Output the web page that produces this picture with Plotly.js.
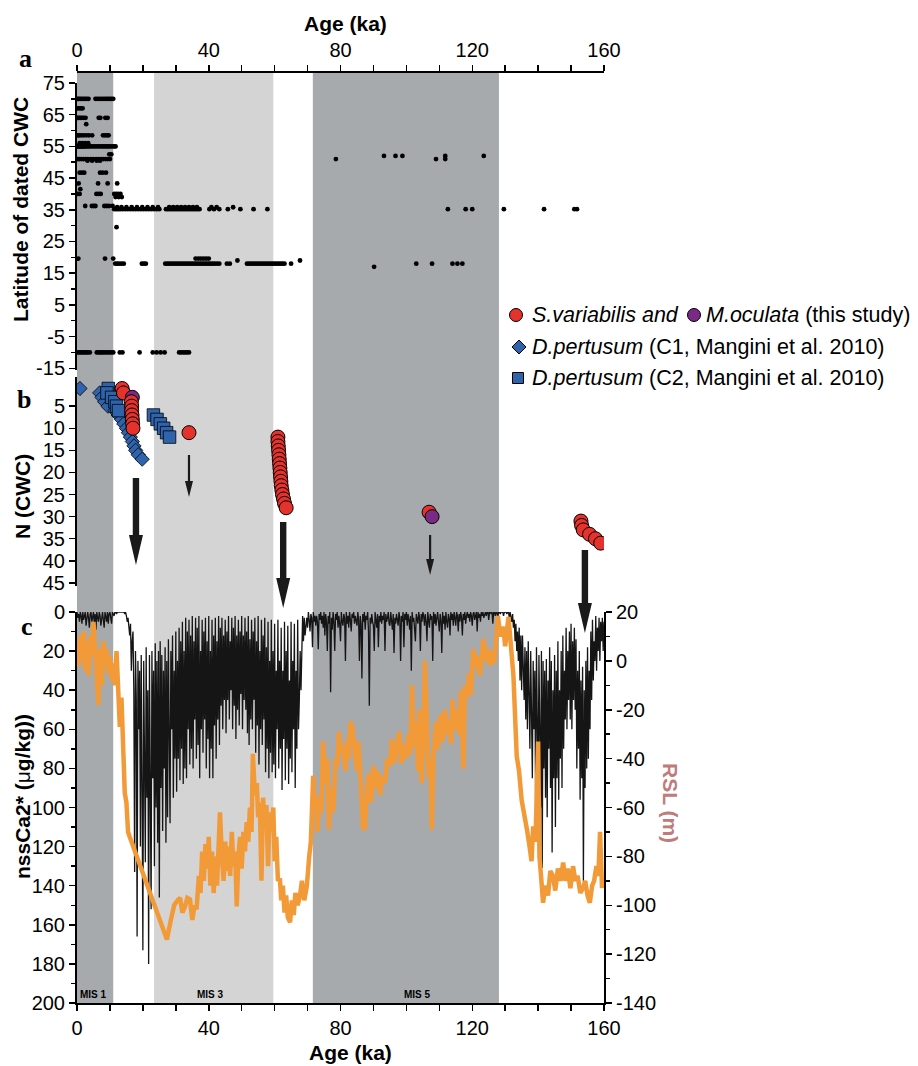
<!DOCTYPE html>
<html><head><meta charset="utf-8">
<script src="https://cdn.plot.ly/plotly-3.0.1.min.js"></script>
<style>html,body{margin:0;padding:0;background:#fff}#chart{width:918px;height:1066px}</style>
</head><body><div id="chart"></div>
<script>
// ================= DATA =================
const ageTicks = [0, 40, 80, 120, 160];
const latTicks = [75, 65, 55, 45, 35, 25, 15, 5, -5, -15];
const nTicks = [5, 10, 15, 20, 25, 30, 35, 40, 45];
const nssTicks = [0, 20, 40, 60, 80, 100, 120, 140, 160, 180, 200];
const rslTicks = [20, 0, -20, -40, -60, -80, -100, -120, -140];

// Marine isotope stages (ka)
const misNames = ['MIS 1', 'MIS 3', 'MIS 5'];
const misStart = [0, 23.4, 71.6];
const misEnd = [11, 59.6, 128.1];
const misLabelAge = [4.9, 40.4, 103.5];

// Panel a: latitude of dated CWC (groups of ages sharing a latitude)
const latGroupLat = [70, 67, 64, 62, 58.5, 56, 55, 52.5, 51, 50.5, 52, 46.7, 43.3, 41.5, 40, 39, 36.2, 35.2, 35.8, 29.5, 19.6, 18, 19, 17, -10];
const latGroupAges = [
  [0.2,0.6,1.0,1.5,2.0,2.5,3.0,3.5,5.6,6.1,6.7,7.3,7.9,8.5,9.0,9.5,10.0,10.5,11.0],
  [0.3,0.8,1.3,1.7],
  [0.2,0.6,1.0,1.5,2.0,2.6,6.6,7.1,8.6,9.3],
  [2.8],
  [0.2,0.7,1.3,2.0,2.8,3.6,4.6,7.9,8.5,9.1,9.6],
  [0.8,1.6,2.5,3.4],
  [0.1,0.4,0.7,1.0,1.3,1.6,1.9,2.2,2.6,3.0,3.5,4.0,4.6,5.2,5.8,6.4,7.0,7.6,8.1,8.6,9.1,9.6,10.1,10.7,11.3,11.7],
  [9.8,10.4],
  [0.3,0.8,1.4,2.0,2.6,3.3,4.2,5.0,5.8,6.6,7.3,8.0,8.7,9.3,10.0,78.6,109.0,111.8],
  [3.2,4.6,6.0,7.0],
  [93.2,96.7,98.8,111.8,123.5],
  [0.8,1.5,2.2,7.0,7.8,8.8],
  [0.5,6.4,9.3,12.2],
  [1.0],
  [0.2,0.8,5.9,6.6,7.2,11.3,11.9,12.5,13.2],
  [11.7,12.7,13.6],
  [2.5,4.5,5.1,5.6,8.3,9.0,9.7,10.8],
  [11.3,11.9,12.5,13.1,13.8,14.6,15.4,16.2,17.0,17.8,18.6,19.4,20.2,21.0,21.8,22.6,23.4,24.2,25.0,27.0,27.6,28.2,28.8,29.4,30.0,30.6,31.2,31.8,32.4,33.0,33.6,34.2,34.8,35.4,36.0,36.6,37.2,40.2,41.6,43.2,45.8,49.6,53.6,57.8,112.6,118.0,120.0,129.6,141.8,151.0,151.8],
  [12.2,13.5,15.0,16.6,18.2,19.8,21.4,23.0,24.6,28.0,29.2,30.4,31.6,32.8,34.0,35.2,36.4,40.8,42.4,47.4],
  [12.0],
  [0.4,8.5,11.0,36.0,36.8,37.6,38.4,39.2,40.0],
  [11.6,12.2,12.8,13.5,14.2,19.7,20.3,20.9,26.8,27.4,28.0,28.6,29.2,29.8,30.4,31.0,31.6,32.2,32.8,33.4,34.0,34.6,35.2,35.8,36.4,37.0,37.6,38.2,38.8,39.4,40.0,40.6,41.2,41.8,42.5,43.2,45.5,46.4,51.6,52.2,52.8,53.4,54.0,54.6,55.2,55.8,56.4,57.0,57.6,58.2,58.8,59.4,60.0,60.6,61.2,61.8,62.4,63.0,65.0,103.0,107.8,114.0,115.5,117.0],
  [48.7,67.7],
  [90.2],
  [0.3,0.8,1.3,1.8,2.3,2.8,3.3,3.9,6.0,6.5,7.0,7.5,8.0,8.6,9.2,9.8,10.4,11.0,13.0,13.8,19.0,23.0,24.2,25.4,26.6,31.0,31.6,32.2,32.8,33.4,34.0]
];

// Panel b: cumulative number of dated CWC
const c1Age = [0.9,6.9,7.6,8.4,9.4,11.5,12.5,13.5,14.2,15.0,15.6,16.2,16.8,17.3,17.8,18.6,19.8];
const c1N   = [1,2,3,4,5,6,7,8,9,10,11,12,13,14,15,16,17];
const c2Age = [9.5,9.1,10.5,11.5,12.0,12.6,23.2,24.3,25.3,26.3,27.2,28.1];
const c2N   = [1,2,3,4,5,6,7,8,9,10,11,12];
const studyAge = [13.7,14.1,16.8,16.5,16.6,16.6,16.7,16.8,16.9,17.0,34.0,
  61.0,61.0,61.1,61.2,61.3,61.4,61.5,61.6,61.7,61.8,61.9,62.0,62.2,62.4,62.7,63.0,63.5,
  106.9,107.8,153.0,153.2,153.7,155.6,157.4,159.0];
const studyN = [1,2,3,4,5,6,7,8,9,10,11,12,13,14,15,16,17,18,19,20,21,22,23,24,25,26,27,28,29,30,31,32,33,34,35,36];
const studySpecies = ['S','S','M','S','S','S','S','S','S','S','S',
  'S','S','S','S','S','S','S','S','S','S','S','S','S','S','S','S','S',
  'S','M','S','S','S','S','S','S'];

// Arrows (ka)
const arrowAge = [17.9, 34.0, 62.6, 107.2, 154.2];
const arrowHeavy = [true, false, true, false, true];

// Panel c: nssCa2+ (black), sampled every 0.25 ka from 0 ka (rows of 2.5 ka)
const NSS_STEP = 0.25;
const nssVal = [
  0,3,1,5,0,2,6,0,4,1,
  0,7,2,0,3,8,1,0,5,2,
  0,6,1,9,0,3,5,0,2,7,
  1,0,4,8,0,2,5,0,6,1,
  0,3,6,0,1,2,0,0,1,0,
  0,0,0,0,0,0,0,0,1,0,
  2,5,3,8,12,6,30,15,10,40,
  133,20,45,166,25,60,30,120,22,90,
  173,25,70,128,18,95,40,180,22,110,
  152,20,85,30,130,16,100,25,118,20,
  146,15,90,22,112,30,80,18,118,25,
  105,14,70,108,20,60,12,95,30,75,
  10,92,25,75,8,86,15,70,5,88,
  20,80,3,85,10,60,4,78,12,70,
  2,80,15,55,3,75,8,68,2,85,
  20,60,4,72,10,55,3,80,15,65,
  2,85,20,70,4,85,12,58,3,75,
  15,55,2,68,8,48,3,60,12,45,
  4,62,10,45,2,55,15,40,3,60,
  8,48,2,65,12,50,4,58,10,42,
  2,60,12,45,3,50,10,62,2,68,
  14,55,4,60,10,45,3,72,15,58,
  2,78,20,60,4,68,12,55,3,82,
  18,70,5,85,25,72,4,82,20,78,
  6,85,30,60,4,80,25,70,8,91,
  30,65,5,86,20,70,7,88,35,75,
  5,82,25,60,6,90,30,70,4,60,
  45,20,40,8,2,15,3,12,5,3,
  8,0,4,10,1,3,18,0,5,2,
  7,2,5,19,1,4,0,6,2,8,
  0,12,1,5,20,2,6,0,41,3,
  9,0,5,20,1,4,0,8,2,6,
  15,0,5,7,1,3,25,0,6,2,
  8,0,4,10,1,3,0,6,2,5,
  7,0,4,25,2,6,34,1,5,0,
  9,2,4,0,10,48,3,6,1,5,
  7,20,0,4,8,1,18,2,5,0,
  6,2,4,0,20,1,5,3,0,6,
  7,0,4,9,1,21,3,6,1,5,
  7,0,3,25,2,5,0,18,1,4,
  0,7,1,4,9,2,30,0,5,3,
  8,15,1,4,6,0,3,20,1,5,
  0,2,7,1,5,15,0,4,8,1,
  4,2,25,0,6,1,7,3,0,5,
  10,1,4,21,0,6,2,9,0,5,
  8,1,3,12,0,4,1,7,0,3,
  7,0,2,10,1,5,0,3,12,1,
  4,0,6,2,0,3,1,5,0,2,
  7,1,0,4,2,0,10,0,3,1,
  5,0,2,0,3,1,0,2,0,0,
  4,0,0,1,0,6,0,0,2,0,
  0,3,0,0,1,0,0,0,2,0,
  0,0,1,0,0,3,0,2,5,1,
  8,4,15,6,20,10,25,8,35,12,
  40,12,30,45,18,55,20,60,15,50,
  70,20,45,85,25,60,30,100,18,75,
  95,22,60,100,20,131,25,80,30,95,
  24,105,35,70,18,90,25,123,40,85,
  22,110,30,85,15,96,40,75,20,90,
  12,70,30,55,8,60,20,45,10,55,
  6,60,15,45,8,50,14,80,30,70,
  20,96,35,85,28,138,40,90,25,80,
  18,75,30,60,10,45,4,35,15,25,
  2,30,8,20,3,25,5,15,3,20,
  5
];

// Panel c: relative sea level (orange)
const rslAge = [0,0.5,1,1.5,2,2.5,3,3.5,4,4.5,5,5.5,6,6.5,7,7.5,8,8.5,9,9.5,10,10.5,11,11.5,12,12.5,13,13.5,14,14.5,15,15.5,16,27.3,
  28.5,29.5,30.5,31.3,32,32.8,33.5,34.3,35,35.7,36.3,37,37.5,38,38.5,39,39.5,40,40.5,41,41.5,42,42.5,43,43.4,44,44.5,45,45.5,46,46.5,47,47.5,48,48.5,49,49.5,
  50,50.5,51,51.5,52,52.5,53,53.4,54,54.6,55,55.5,56,56.5,57,57.5,58,58.5,59,59.6,60,60.5,61,61.6,62,62.5,63,63.5,64,64.7,65.2,65.8,66.3,67,67.7,68.3,69,69.8,
  70.5,71,71.7,72.2,72.7,73,73.7,74.2,74.7,75.3,76,76.5,77,77.8,78.5,79,79.5,80,80.8,81.5,82,82.5,83,83.6,84.2,85,85.5,86.3,86.8,87.4,88,88.7,89.3,
  90,90.6,91.2,92,92.7,93.5,94.2,95,95.6,96.3,97,97.8,98.5,99.2,100,100.6,101.2,101.7,102.3,103,103.5,104,104.6,105.2,105.6,106.2,106.8,107.3,107.7,108.3,109,109.6,
  110.3,111,111.7,112.3,113,113.6,114,114.7,115.3,116,116.6,117.3,117.8,118.4,119,119.6,120.3,121,121.6,122.3,123,123.4,124,124.7,125.3,126,126.7,127.3,127.8,128.5,129.4,
  130,130.5,131,131.5,132,132.5,133.5,134.2,135,135.8,136.6,137.3,138,138.5,139.2,140,140.4,141,141.5,142.2,143,143.7,144.5,145.2,146,146.8,147.6,148.3,149,149.8,
  150.6,151.3,152,152.8,153.6,154.3,155,155.7,156.4,157,157.7,158.3,158.8,159.4];
const rslVal = [8,-2,10,0,12,-4,8,-6,10,2,16,6,-5,-18,5,-10,8,-2,5,-5,2,-8,-1,-10,4,-12,-27,-15,-40,-54,-58,-70,-72,-114,
  -106,-100,-98,-97,-103,-100.5,-97,-97.6,-106,-100,-101.7,-88,-95,-78,-90,-75,-85,-72,-92,-78,-95,-80,-92,-76,-62,-80,-90,-74,-86,-76,-88,-70,-84,-78,-100.5,-80,-72,
  -85,-70,-78,-66,-74,-60,-70,-38,-55,-50,-64,-58,-90,-56,-68,-59,-84,-62,-70,-60,-82,-72,-90,-89,-98,-92,-103,-96,-105,-107,-98,-104,-95,-100,-96,-90,-98,-92,
  -80,-74,-47,-60,-55,-70,-57,-62,-33,-50,-40,-69,-52,-62,-40,-43,-29,-38,-35,-45,-32,-40,-25,-27,-35,-45,-33,-55,-68,-69,-52,-46,-58,
  -43,-52,-45,-55,-47,-50,-40,-43,-32,-42,-36,-29,-42,-34,-40,-30,-38,-10,-35,-25,-45,-20,-50,-30,0,-30,-48,-40,-69,-38,-25,-36,
  -22,-33,-20,-30,-24,-34,-15.7,-28,-20,-30,-12,-44,-10,-15,-5,-14,4.8,-3,2,-6,6,9,0,5,-2,4,-1,8,18.4,10,14,
  6,12,18,10,4,-6,-39,-45,-57,-62,-69,-75,-82,-67.7,-74,-33,-80,-90,-99,-92,-96,-86,-88,-94,-85,-90,-82.5,-90,-85,-93,
  -84,-90,-88,-95,-93,-90,-96,-99,-92,-90,-84,-88,-70,-93];

// ================= LAYOUT HELPERS =================
const W = 918, H = 1066;
const M = {l: 77, r: 314, t: 72, b: 63};
const PW = W - M.l - M.r, PH = H - M.t - M.b;
const fx = p => (p - M.l) / PW;          // pixel x -> paper
const fy = p => (H - M.b - p) / PH;      // pixel y -> paper

const FONT = 'Liberation Sans, Arial, Helvetica, sans-serif';
const SERIF = 'Liberation Serif, Times New Roman, serif';
const tickFont = {family: FONT, size: 20, color: '#000'};
const AX = {showgrid: false, zeroline: false, showline: true, linecolor: '#000', linewidth: 2,
  ticks: 'outside', ticklen: 6, tickwidth: 1.5, tickcolor: '#000', tickfont: tickFont};
const lbl = arr => arr.map(v => String(v));   // plain hyphen-minus labels

const colRed = '#e5322d', colPurple = '#7a2a85', colBlue = '#2f64ad';
const colOrange = '#f29a37';

// build panel a points
const latX = [], latY = [];
latGroupAges.forEach((ages, i) => ages.forEach(a => { latX.push(a); latY.push(latGroupLat[i]); }));
const nssAge = nssVal.map((_, i) => i * NSS_STEP);

const traces = [
  {x: latX, y: latY, xaxis: 'x', yaxis: 'y', mode: 'markers', type: 'scatter',
   marker: {size: 4.8, color: '#000'}, hoverinfo: 'skip'},
  // invisible helper so the top age axis is drawn
  {x: [80], y: [30], xaxis: 'x2', yaxis: 'y', mode: 'markers', type: 'scatter',
   marker: {size: 1, opacity: 0}, hoverinfo: 'skip'},
  {x: c1Age, y: c1N, xaxis: 'x', yaxis: 'y2', mode: 'markers', type: 'scatter',
   marker: {symbol: 'diamond', size: 11, color: colBlue, line: {color: '#000', width: 0.8}}},
  {x: c2Age, y: c2N, xaxis: 'x', yaxis: 'y2', mode: 'markers', type: 'scatter',
   marker: {symbol: 'square', size: 12.5, color: colBlue, line: {color: '#000', width: 0.8}}},
  {x: studyAge, y: studyN, xaxis: 'x', yaxis: 'y2', mode: 'markers', type: 'scatter',
   marker: {symbol: 'circle', size: 14, color: studySpecies.map(s => s === 'M' ? colPurple : colRed),
            line: {color: '#000', width: 1}}},
  {x: nssAge, y: nssVal, xaxis: 'x', yaxis: 'y3', mode: 'lines', type: 'scatter',
   line: {color: '#151515', width: 1.3}},
  {x: rslAge, y: rslVal, xaxis: 'x', yaxis: 'y4', mode: 'lines', type: 'scatter',
   line: {color: colOrange, width: 4.5}}
];

const shapes = [];
misStart.forEach((s, i) => shapes.push({type: 'rect', xref: 'x', yref: 'paper', x0: s, x1: misEnd[i], y0: 0, y1: 1,
  fillcolor: i === 1 ? '#d4d4d4' : '#a7aaad', line: {width: 0}, layer: 'below'}));

// arrows (pixel-sized paths)
const arrowTopPx = [478, 455, 522, 535, 550];
const arrowLenPx = [87, 42, 86, 40, 83];
function arrowPath(len, heavy) {
  const sw = heavy ? 3.2 : 1.1, hw = heavy ? 7 : 4, hl = heavy ? 30 : 16;
  const yb = -(len - hl);
  return `M${-sw},0 L${sw},0 L${sw},${yb} L${hw},${yb} L0,${-len} L${-hw},${yb} L${-sw},${yb} Z`;
}
arrowAge.forEach((a, i) => shapes.push({type: 'path', xref: 'x', yref: 'paper', xsizemode: 'pixel', ysizemode: 'pixel',
  xanchor: a, yanchor: fy(arrowTopPx[i]), path: arrowPath(arrowLenPx[i], arrowHeavy[i]),
  fillcolor: '#1a1a1a', line: {width: 0}}));

// legend markers
function pxShape(extra, cx, cy) {
  return Object.assign({xref: 'paper', yref: 'paper', xsizemode: 'pixel', ysizemode: 'pixel',
    xanchor: fx(cx), yanchor: fy(cy), line: {color: '#000', width: 1}}, extra);
}
shapes.push(pxShape({type: 'circle', x0: -6.5, x1: 6.5, y0: -6.5, y1: 6.5, fillcolor: colRed}, 516, 315));
shapes.push(pxShape({type: 'circle', x0: -6.5, x1: 6.5, y0: -6.5, y1: 6.5, fillcolor: colPurple}, 694, 315));
shapes.push(pxShape({type: 'path', path: 'M0,7 L7,0 L0,-7 L-7,0 Z', fillcolor: colBlue}, 519, 347));
shapes.push(pxShape({type: 'rect', x0: -5.5, x1: 5.5, y0: -5.5, y1: 5.5, fillcolor: colBlue}, 518, 378));

const ann = [];
function txt(text, px, py, opts) {
  ann.push(Object.assign({text, xref: 'paper', yref: 'paper', x: fx(px), y: fy(py), showarrow: false,
    xanchor: 'center', yanchor: 'middle', font: {family: FONT, size: 21, color: '#000'}}, opts || {}));
}
const legFont = {family: FONT, size: 21.5, color: '#000'};
txt('<b>Age (ka)</b>', 346, 24);
txt('<b>Age (ka)</b>', 350, 1052);
txt('<b>Latitude of dated CWC</b>', 21, 210, {textangle: -90});
txt('<b>N (CWC)</b>', 22, 497, {textangle: -90});
txt('<b>nssCa2* (</b>μ<b>g/kg))</b>', 22, 797, {textangle: -90});
txt('<b>RSL (m)</b>', 671, 803, {textangle: 90, font: {family: FONT, size: 21, color: '#c07b7b'}});
txt('<b>a</b>', 25, 59, {font: {family: SERIF, size: 26, color: '#000'}});
txt('<b>b</b>', 24, 399, {font: {family: SERIF, size: 26, color: '#000'}});
txt('<b>c</b>', 27, 626, {font: {family: SERIF, size: 26, color: '#000'}});
txt('<i>S.variabilis and</i>', 530, 315, {xanchor: 'left', font: legFont});
txt('<i>M.oculata</i> (this study)', 704, 315, {xanchor: 'left', font: legFont});
txt('<i>D.pertusum</i> (C1, Mangini et al. 2010)', 530, 347, {xanchor: 'left', font: legFont});
txt('<i>D.pertusum</i> (C2, Mangini et al. 2010)', 530, 378, {xanchor: 'left', font: legFont});
misNames.forEach((n, i) => ann.push({text: '<b>' + n + '</b>', xref: 'x', yref: 'paper', x: misLabelAge[i], y: fy(994),
  showarrow: false, xanchor: 'center', yanchor: 'middle', font: {family: FONT, size: 10, color: '#000'}}));

const xMinor = {dtick: 10, ticks: 'outside', ticklen: 6, tickwidth: 1.5, tickcolor: '#000', showgrid: false};
const yMinor = {dtick: 10, ticks: 'outside', ticklen: 4, tickwidth: 1.5, tickcolor: '#000', showgrid: false};
const layout = {
  width: W, height: H, margin: M, showlegend: false,
  paper_bgcolor: '#fff', plot_bgcolor: 'rgba(0,0,0,0)',
  font: {family: FONT, color: '#000'},
  xaxis: Object.assign({}, AX, {domain: [0, 1], range: [0, 160], anchor: 'y3', tickvals: ageTicks, ticktext: lbl(ageTicks), minor: xMinor}),
  xaxis2: Object.assign({}, AX, {range: [0, 160], overlaying: 'x', side: 'top', anchor: 'free', position: 1,
    tickvals: ageTicks, ticktext: lbl(ageTicks), minor: xMinor}),
  yaxis: Object.assign({}, AX, {domain: [fy(370), fy(83)], range: [-15.55, 75], anchor: 'x', tickvals: latTicks, ticktext: lbl(latTicks),
    minor: Object.assign({}, yMinor, {tick0: 0, dtick: 5})}),
  yaxis2: Object.assign({}, AX, {domain: [fy(586), fy(377)], range: [45.7, -1.6], anchor: 'x', tickvals: nTicks, ticktext: lbl(nTicks)}),
  yaxis3: Object.assign({}, AX, {domain: [0, fy(612)], range: [200, 0], anchor: 'x', tickvals: nssTicks, ticktext: lbl(nssTicks), minor: yMinor}),
  yaxis4: Object.assign({}, AX, {overlaying: 'y3', side: 'right', anchor: 'x', range: [-140, 20], tickvals: rslTicks, ticktext: lbl(rslTicks), minor: yMinor}),
  shapes: shapes,
  annotations: ann
};

Plotly.newPlot('chart', traces, layout, {displayModeBar: false, staticPlot: true});
</script>
</body></html>
